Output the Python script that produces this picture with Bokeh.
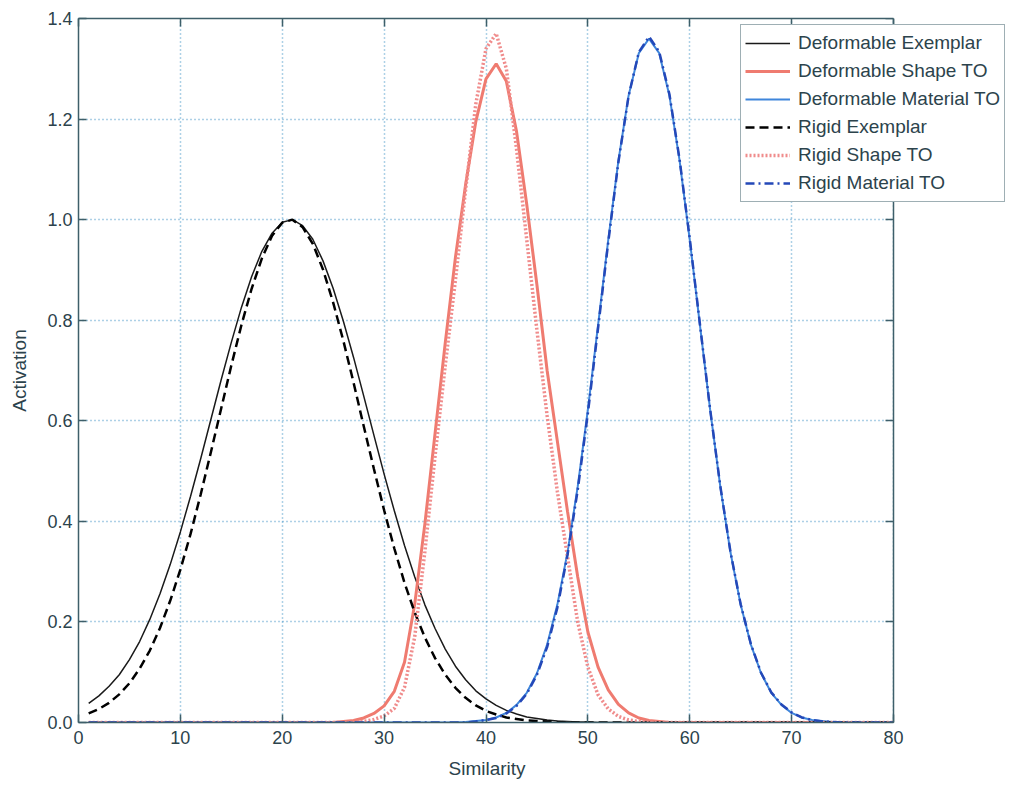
from bokeh.plotting import figure
from bokeh.models import (LinearAxis, FixedTicker, Legend, LegendItem, Range1d,
                          BoxAnnotation, Title)
from bokeh.embed import file_html
from bokeh.resources import INLINE

similarity = list(range(1, 81))

deformable_exemplar = [
    0.038, 0.053, 0.072, 0.095, 0.125, 0.161, 0.205, 0.256, 0.314, 0.379,
    0.450, 0.525, 0.603, 0.681, 0.756, 0.826, 0.887, 0.937, 0.973, 0.995,
    1.000, 0.988, 0.961, 0.918, 0.863, 0.798, 0.726, 0.649, 0.571, 0.494,
    0.421, 0.352, 0.290, 0.234, 0.187, 0.146, 0.112, 0.085, 0.063, 0.047,
    0.034, 0.024, 0.017, 0.011, 0.008, 0.005, 0.003, 0.002, 0.001, 0.001,
    0, 0, 0, 0, 0, 0, 0, 0, 0, 0,
    0, 0, 0, 0, 0, 0, 0, 0, 0, 0,
    0, 0, 0, 0, 0, 0, 0, 0, 0, 0,
]

deformable_shape = [
    0, 0, 0, 0, 0, 0, 0, 0, 0, 0,
    0, 0, 0, 0, 0, 0, 0, 0, 0, 0,
    0, 0, 0, 0, 0, 0.002, 0.004, 0.009, 0.018, 0.033,
    0.062, 0.120, 0.235, 0.395, 0.575, 0.755, 0.925, 1.070, 1.195, 1.280,
    1.310, 1.275, 1.175, 1.030, 0.870, 0.700, 0.560, 0.420, 0.290, 0.180,
    0.110, 0.065, 0.036, 0.019, 0.009, 0.004, 0.002, 0, 0, 0,
    0, 0, 0, 0, 0, 0, 0, 0, 0, 0,
    0, 0, 0, 0, 0, 0, 0, 0, 0, 0,
]

deformable_material = [
    0, 0, 0, 0, 0, 0, 0, 0, 0, 0,
    0, 0, 0, 0, 0, 0, 0, 0, 0, 0,
    0, 0, 0, 0, 0, 0, 0, 0, 0, 0,
    0, 0, 0, 0, 0, 0, 0, 0.001, 0.003, 0.005,
    0.010, 0.019, 0.035, 0.059, 0.098, 0.155, 0.234, 0.338, 0.469, 0.622,
    0.790, 0.960, 1.118, 1.247, 1.331, 1.360, 1.331, 1.247, 1.118, 0.960,
    0.790, 0.622, 0.469, 0.338, 0.234, 0.155, 0.098, 0.059, 0.035, 0.019,
    0.010, 0.005, 0.003, 0.001, 0, 0, 0, 0, 0, 0,
]

rigid_exemplar = [
    0.018, 0.027, 0.039, 0.056, 0.078, 0.107, 0.143, 0.188, 0.242, 0.304,
    0.375, 0.454, 0.538, 0.624, 0.710, 0.791, 0.863, 0.923, 0.968, 0.994,
    1.000, 0.985, 0.952, 0.901, 0.835, 0.759, 0.676, 0.589, 0.504, 0.422,
    0.346, 0.278, 0.219, 0.169, 0.128, 0.095, 0.069, 0.049, 0.034, 0.023,
    0.016, 0.010, 0.007, 0.004, 0.003, 0.002, 0.001, 0, 0, 0,
    0, 0, 0, 0, 0, 0, 0, 0, 0, 0,
    0, 0, 0, 0, 0, 0, 0, 0, 0, 0,
    0, 0, 0, 0, 0, 0, 0, 0, 0, 0,
]

rigid_shape = [
    0, 0, 0, 0, 0, 0, 0, 0, 0, 0,
    0, 0, 0, 0, 0, 0, 0, 0, 0, 0,
    0, 0, 0, 0, 0, 0, 0, 0.002, 0.006, 0.013,
    0.028, 0.070, 0.170, 0.340, 0.530, 0.710, 0.880, 1.060, 1.230, 1.340,
    1.370, 1.300, 1.140, 0.960, 0.780, 0.610, 0.460, 0.330, 0.200, 0.110,
    0.055, 0.027, 0.012, 0.005, 0.002, 0, 0, 0, 0, 0,
    0, 0, 0, 0, 0, 0, 0, 0, 0, 0,
    0, 0, 0, 0, 0, 0, 0, 0, 0, 0,
]

rigid_material = [
    0, 0, 0, 0, 0, 0, 0, 0, 0, 0,
    0, 0, 0, 0, 0, 0, 0, 0, 0, 0,
    0, 0, 0, 0, 0, 0, 0, 0, 0, 0,
    0, 0, 0, 0, 0, 0, 0, 0, 0.002, 0.005,
    0.009, 0.018, 0.033, 0.057, 0.095, 0.150, 0.228, 0.333, 0.462, 0.615,
    0.784, 0.955, 1.115, 1.246, 1.333, 1.364, 1.334, 1.250, 1.120, 0.962,
    0.792, 0.623, 0.470, 0.339, 0.235, 0.156, 0.099, 0.060, 0.036, 0.020,
    0.010, 0.005, 0.002, 0.001, 0, 0, 0, 0, 0, 0,
]

x_ticks = [0, 10, 20, 30, 40, 50, 60, 70, 80]
y_ticks = [0.0, 0.2, 0.4, 0.6, 0.8, 1.0, 1.2, 1.4]
y_tick_labels = ["0.0", "0.2", "0.4", "0.6", "0.8", "1.0", "1.2", "1.4"]
X_MIN, X_MAX = 0, 80

FONT = "Liberation Sans"
AXIS_COLOR = "#3e5f6a"
TEXT_COLOR = "#2c434c"

# frame spans 78..1005 px; the data box (0..80) spans 78..893 px,
# the rest of the frame holds the legend that sticks out of the box.
X_END = X_MAX * (1005 - 78) / (893 - 78)

p = figure(width=1010, height=789, output_backend="svg", toolbar_location=None,
           x_range=Range1d(X_MIN, X_END), y_range=Range1d(0, 1.4),
           min_border_left=78, min_border_right=5, min_border_top=18,
           min_border_bottom=67, y_axis_label="Activation")
p.background_fill_color = "white"
p.border_fill_color = "white"
p.outline_line_color = None


def style_axis(ax):
    ax.major_tick_in = 8
    ax.major_tick_out = 0
    ax.minor_tick_in = 0
    ax.minor_tick_out = 0
    ax.axis_line_color = AXIS_COLOR
    ax.axis_line_width = 1.5
    ax.major_tick_line_color = AXIS_COLOR
    ax.major_tick_line_width = 1.5


for ax, ticks in ((p.xaxis[0], x_ticks), (p.yaxis[0], y_ticks)):
    ax.ticker = FixedTicker(ticks=ticks)
    style_axis(ax)
    ax.major_label_text_font = FONT
    ax.major_label_text_font_size = "18px"
    ax.major_label_text_color = TEXT_COLOR
    ax.axis_label_text_font = FONT
    ax.axis_label_text_font_size = "19px"
    ax.axis_label_text_font_style = "normal"
    ax.axis_label_text_color = TEXT_COLOR

p.xaxis[0].bounds = (X_MIN, X_MAX)
p.xaxis[0].major_label_standoff = 8
p.yaxis[0].major_label_standoff = 6
p.yaxis[0].major_label_overrides = {t: l for t, l in zip(y_ticks, y_tick_labels)}
p.yaxis[0].axis_label_standoff = 14

# inner ticks on top and right sides of the data box
top = LinearAxis(ticker=FixedTicker(ticks=x_ticks), bounds=(X_MIN, X_MAX))
right = LinearAxis(ticker=FixedTicker(ticks=y_ticks), fixed_location=X_MAX)
for ax, ticks in ((top, x_ticks), (right, y_ticks)):
    style_axis(ax)
    ax.major_label_overrides = {t: "" for t in ticks}
    ax.major_label_text_font_size = "1px"
    ax.major_label_standoff = 0
p.add_layout(top, "above")
p.add_layout(right, "right")

# x axis title centred under the data box
xtitle = Title(text="Similarity", align="left", offset=370, standoff=18,
               text_font=FONT, text_font_size="19px", text_font_style="normal",
               text_color=TEXT_COLOR)
p.add_layout(xtitle, "below")

p.xgrid.ticker = FixedTicker(ticks=x_ticks)
p.ygrid.ticker = FixedTicker(ticks=y_ticks)
for g in (p.xgrid[0], p.ygrid[0]):
    g.grid_line_color = "#4a98c8"
    g.grid_line_dash = "1 3"
    g.grid_line_width = 1.5
    g.grid_line_alpha = 0.9

# blank out everything right of the data box (under the legend)
p.add_layout(BoxAnnotation(left=X_MAX, fill_color="white", fill_alpha=1.0,
                           line_alpha=0, level="glyph"))

r1 = p.line(similarity, deformable_exemplar, line_color="#1a1a1a", line_width=1.5)
r2 = p.line(similarity, deformable_shape, line_color="#ef7b70", line_width=3)
r3 = p.line(similarity, deformable_material, line_color="#3f86db", line_width=2)
r4 = p.line(similarity, rigid_exemplar, line_color="#000000", line_width=2.5, line_dash="9 5")
r5 = p.line(similarity, rigid_shape, line_color="#f08c8c", line_width=3.5, line_dash="2 2")
r6 = p.line(similarity, rigid_material, line_color="#2448b8", line_width=2.5, line_dash="9 4 2 4")

legend = Legend(items=[
    LegendItem(label="Deformable Exemplar", renderers=[r1]),
    LegendItem(label="Deformable Shape TO", renderers=[r2]),
    LegendItem(label="Deformable Material TO", renderers=[r3]),
    LegendItem(label="Rigid Exemplar", renderers=[r4]),
    LegendItem(label="Rigid Shape TO", renderers=[r5]),
    LegendItem(label="Rigid Material TO", renderers=[r6]),
], location=(662, 520))
legend.label_text_font = FONT
legend.label_text_font_size = "19px"
legend.label_text_color = TEXT_COLOR
legend.glyph_width = 45
legend.glyph_height = 28
legend.label_height = 28
legend.label_standoff = 8
legend.spacing = 0
legend.padding = 4
legend.margin = 0
legend.border_line_color = AXIS_COLOR
legend.border_line_width = 1.5
legend.background_fill_color = "white"
legend.background_fill_alpha = 1.0
p.add_layout(legend, "center")

open("out.html", "w").write(file_html(p, INLINE))
